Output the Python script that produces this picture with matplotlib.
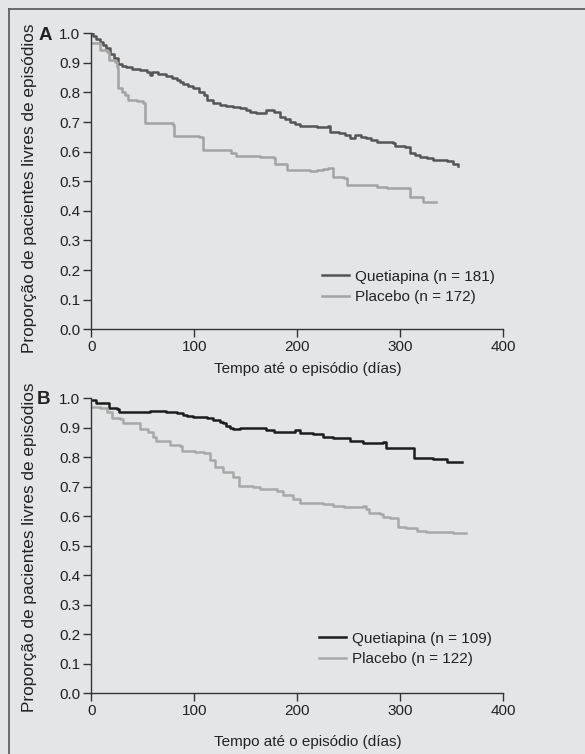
import matplotlib
matplotlib.use("Agg")
from matplotlib import pyplot as plt
from matplotlib.lines import Line2D

plt.rcParams["font.family"] = ["Liberation Sans", "DejaVu Sans"]

# panel A - time (days) and proportion free of episodes
quet_a_t = [0, 2, 5, 8, 11, 14, 18, 22, 26, 30, 34, 40, 47, 54, 57, 59, 65, 73, 78, 83, 86, 89,
            94, 99, 105, 109, 112, 118, 125, 131, 138, 144, 150, 154, 160, 164, 170, 177, 183,
            188, 193, 198, 203, 219, 230, 232, 241, 246, 251, 256, 262, 267, 272, 277, 293, 295,
            305, 309, 314, 319, 326, 332, 345, 351, 356]
quet_a_s = [1.0, 0.99, 0.98, 0.97, 0.96, 0.95, 0.93, 0.915, 0.897, 0.89, 0.885, 0.88, 0.875,
            0.87, 0.86, 0.87, 0.862, 0.854, 0.848, 0.842, 0.835, 0.83, 0.822, 0.814, 0.80,
            0.79, 0.775, 0.764, 0.758, 0.755, 0.75, 0.747, 0.742, 0.735, 0.73, 0.73, 0.741,
            0.735, 0.718, 0.71, 0.70, 0.693, 0.685, 0.682, 0.685, 0.668, 0.662, 0.655, 0.645,
            0.656, 0.65, 0.645, 0.64, 0.634, 0.63, 0.62, 0.617, 0.595, 0.59, 0.583, 0.578,
            0.572, 0.57, 0.56, 0.55]
plac_a_t = [0, 7, 8, 15, 17, 23, 25, 26, 30, 33, 36, 44, 50, 52, 77, 79, 80, 105, 108, 131,
            136, 141, 164, 177, 178, 188, 190, 212, 219, 225, 230, 235, 245, 248, 277, 287,
            309, 321, 322, 335]
plac_a_s = [0.966, 0.966, 0.944, 0.938, 0.91, 0.904, 0.887, 0.814, 0.80, 0.792, 0.775, 0.771,
            0.764, 0.698, 0.698, 0.69, 0.653, 0.651, 0.606, 0.604, 0.595, 0.585, 0.583, 0.578,
            0.56, 0.56, 0.538, 0.536, 0.538, 0.541, 0.544, 0.516, 0.51, 0.488, 0.482, 0.476,
            0.448, 0.446, 0.431, 0.429]

# panel B
quet_b_t = [0, 5, 14, 17, 25, 27, 41, 57, 73, 83, 89, 93, 99, 112, 118, 125, 128, 131, 135,
            138, 144, 157, 170, 177, 193, 198, 203, 215, 225, 235, 251, 264, 280, 283, 286,
            311, 313, 332, 345, 360]
quet_b_s = [0.994, 0.985, 0.985, 0.966, 0.963, 0.954, 0.954, 0.958, 0.952, 0.949, 0.944,
            0.94, 0.936, 0.932, 0.928, 0.92, 0.915, 0.907, 0.9, 0.895, 0.9, 0.898, 0.893,
            0.887, 0.887, 0.893, 0.884, 0.879, 0.87, 0.864, 0.856, 0.85, 0.85, 0.853, 0.83,
            0.83, 0.797, 0.793, 0.785, 0.783]
plac_b_t = [0, 4, 8, 15, 20, 28, 31, 39, 47, 55, 60, 63, 73, 76, 86, 88, 101, 109, 115, 120,
            128, 138, 143, 157, 164, 180, 186, 196, 203, 225, 235, 245, 264, 267, 270, 280,
            283, 290, 298, 306, 316, 325, 338, 351, 364]
plac_b_s = [0.97, 0.969, 0.966, 0.955, 0.934, 0.929, 0.918, 0.915, 0.895, 0.887, 0.87, 0.856,
            0.856, 0.842, 0.838, 0.823, 0.818, 0.814, 0.791, 0.768, 0.751, 0.734, 0.703, 0.70,
            0.692, 0.687, 0.672, 0.658, 0.644, 0.642, 0.635, 0.631, 0.635, 0.624, 0.612,
            0.607, 0.599, 0.595, 0.563, 0.56, 0.551, 0.547, 0.547, 0.542, 0.544]

bg = "#e4e5e7"
txt = "#222222"

fig = plt.figure(figsize=(5.85, 7.54), dpi=100, facecolor=bg)

# frame around the figure (only top and left visible)
fig.add_artist(Line2D([9 / 585, 1.0], [1 - 9 / 754, 1 - 9 / 754], transform=fig.transFigure,
                      color="#555555", lw=1.2))
fig.add_artist(Line2D([9 / 585, 9 / 585], [0, 1 - 9 / 754], transform=fig.transFigure,
                      color="#555555", lw=1.2))


def draw_panel(rect, qt, qs, pt, ps, qcol, pcol, qlab, plab, xlab_y, ylab_y, leg_xy):
    ax = fig.add_axes(rect)
    ax.set_facecolor("none")
    ax.step(qt, qs, where="post", color=qcol, lw=1.8, label=qlab)
    ax.step(pt, ps, where="post", color=pcol, lw=1.8, label=plab)
    ax.set_xlim(0, 400)
    ax.set_ylim(0, 1.0)
    ax.set_xticks([0, 100, 200, 300, 400])
    ax.set_yticks([i / 10 for i in range(11)])
    ax.set_yticklabels([f"{i / 10:.1f}" for i in range(11)])
    for s in ["top", "right"]:
        ax.spines[s].set_visible(False)
    for s in ["left", "bottom"]:
        ax.spines[s].set_color("#333333")
        ax.spines[s].set_linewidth(1.0)
    ax.tick_params(direction="out", length=6, width=1.0, color="#333333",
                   labelsize=11, labelcolor=txt, pad=2)
    ax.set_xlabel("Tempo até o episódio (días)", fontsize=11, color=txt)
    ax.xaxis.set_label_coords(0.526, xlab_y)
    ax.set_ylabel("Proporção de pacientes livres de episódios", fontsize=12.4, color=txt)
    ax.yaxis.set_label_coords(-0.132, ylab_y)
    leg = ax.legend(loc="upper left", bbox_to_anchor=leg_xy, frameon=False, fontsize=11,
                    handlelength=1.75, handletextpad=0.4, labelspacing=0.42,
                    borderpad=0, borderaxespad=0)
    for t in leg.get_texts():
        t.set_color(txt)
    return ax


draw_panel([0.156, 0.5633, 0.7043, 0.3926], quet_a_t, quet_a_s, plac_a_t, plac_a_s,
           "#555555", "#a3a3a3", "Quetiapina (n = 181)", "Placebo (n = 172)",
           -0.11, 0.477, (0.56, 0.2015))
draw_panel([0.156, 0.0805, 0.7043, 0.3912], quet_b_t, quet_b_s, plac_b_t, plac_b_s,
           "#1c1c1c", "#a8a8a8", "Quetiapina (n = 109)", "Placebo (n = 122)",
           -0.141, 0.494, (0.553, 0.2085))

fig.text(45 / 585, 1 - 35 / 754, "A", fontsize=13.5, fontweight="bold", color=txt,
         ha="center", va="center")
fig.text(43 / 585, 1 - 399 / 754, "B", fontsize=13.5, fontweight="bold", color=txt,
         ha="center", va="center")

fig.savefig("out.png", dpi=100, facecolor=bg)
